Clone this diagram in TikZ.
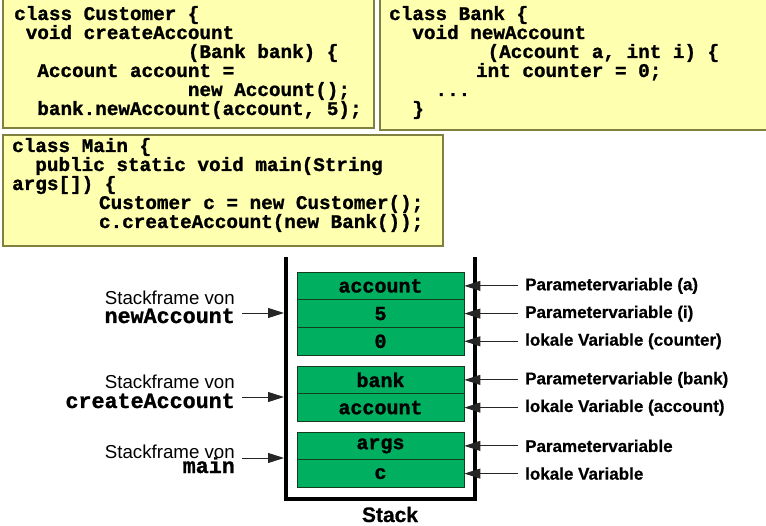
\documentclass[tikz,border=0pt]{standalone}
\usepackage{fontspec}
\setmainfont{Liberation Sans}[BoldFeatures={FakeBold=0.6}]
\newfontfamily\codefont{Liberation Mono}[BoldFeatures={FakeBold=1.2}]
\usetikzlibrary{arrows.meta}
\definecolor{boxfill}{RGB}{255,255,176}
\definecolor{boxline}{RGB}{128,128,64}
\definecolor{cellgreen}{RGB}{0,176,96}
\definecolor{celledge}{RGB}{20,60,30}
\tikzset{
  codebox/.style={draw=boxline, fill=boxfill, line width=1.5pt},
  code/.style={anchor=base west, inner sep=0pt, align=left,
    font={\codefont\bfseries\fontsize{19.3}{19}\selectfont}},
  cell/.style={draw=celledge, fill=cellgreen, line width=0.8pt,
    minimum width=167pt, minimum height=27.7pt, inner sep=0pt,
    font={\codefont\bfseries\fontsize{20}{20}\selectfont}},
  sflabel/.style={anchor=base east, inner sep=0pt,
    font={\fontsize{18.7}{20}\selectfont}},
  mname/.style={anchor=base east, inner sep=0pt,
    font={\codefont\bfseries\fontsize{21.7}{22}\selectfont}},
  varlabel/.style={anchor=west, inner sep=0pt,
    font={\bfseries\fontsize{17}{18}\selectfont}},
  ptr/.style={line width=0.9pt, draw=black!85, -{Triangle[length=16pt,width=10pt]}},
  stackwall/.style={line width=4pt, line join=miter}
}
\begin{document}
\begin{tikzpicture}[x=1pt,y=-1pt]
\useasboundingbox (0,0) rectangle (766,526);
\clip (0,0) rectangle (766,526);
% code boxes
\draw[codebox] (3,-5) rectangle (374,128);
\draw[codebox] (380,-5) rectangle (775,130);
\draw[codebox] (3,135) rectangle (443,246);
\node[code] (cust) at (14,115) {class Customer \{\\
\hspace*{0.6em}void createAccount\\
\hspace*{9em}(Bank bank) \{\\
\hspace*{1.2em}Account account =\\
\hspace*{9em}new Account();\\
\hspace*{1.2em}bank.newAccount(account, 5);};
\node[code] (bank) at (389,115) {class Bank \{\\
\hspace*{1.2em}void newAccount\\
\hspace*{5.1em}(Account a, int i) \{\\
\hspace*{4.5em}int counter = 0;\\
\hspace*{2.4em}...\\
\hspace*{1.2em}\}};
\node[code] (main) at (12,228) {class Main \{\\
\hspace*{1.2em}public static void main(String\\
args[]) \{\\
\hspace*{4.5em}Customer c = new Customer();\\
\hspace*{4.5em}c.createAccount(new Bank());};
% stack
\draw[stackwall] (286,257) -- (286,498.5) -- (475,498.5) -- (475,257);
\coordinate (wallL) at (284,380);
\node[font={\bfseries\fontsize{21}{22}\selectfont}, anchor=base, inner sep=0pt] (stacklbl) at (390,522) {Stack};
% cells
\node[cell] (c1) at (380.5,285.9) {account};
\node[cell] (c2) at (380.5,313.6) {5};
\node[cell] (c3) at (380.5,341.3) {0};
\node[cell] (c4) at (380.5,379.9) {bank};
\node[cell] (c5) at (380.5,407.6) {account};
\node[cell] (c6) at (380.5,445.9) {args};
\node[cell] (c7) at (380.5,473.6) {c};
% right labels
\node[varlabel] (v1) at (525,285.9) {Parametervariable (a)};
\node[varlabel] (v2) at (525,313.6) {Parametervariable (i)};
\node[varlabel] (v3) at (525,341.3) {lokale Variable (counter)};
\node[varlabel] (v4) at (525,379.9) {Parametervariable (bank)};
\node[varlabel] (v5) at (525,407.6) {lokale Variable (account)};
\node[varlabel] (v6) at (525,445.9) {Parametervariable};
\node[varlabel] (v7) at (525,473.6) {lokale Variable};
\foreach \i in {1,...,7}{
  \draw[ptr] ([xshift=-7pt]v\i.west) -- (c\i.east);
}
% left labels
\node[sflabel] (sf1) at (235,305) {Stackframe von};
\node[mname] (m1) at (235,323) {newAccount};
\node[sflabel] (sf2) at (235,389) {Stackframe von};
\node[mname] (m2) at (235,408) {createAccount};
\node[sflabel] (sf3) at (235,458) {Stackframe von};
\node[mname] (m3) at (235,473) {main};
\coordinate (a1) at (242,313);
\coordinate (a2) at (242,397);
\coordinate (a3) at (242,458);
\draw[ptr] (a1) -- (a1 -| wallL);
\draw[ptr] (a2) -- (a2 -| wallL);
\draw[ptr] (a3) -- (a3 -| wallL);
\end{tikzpicture}
\end{document}
